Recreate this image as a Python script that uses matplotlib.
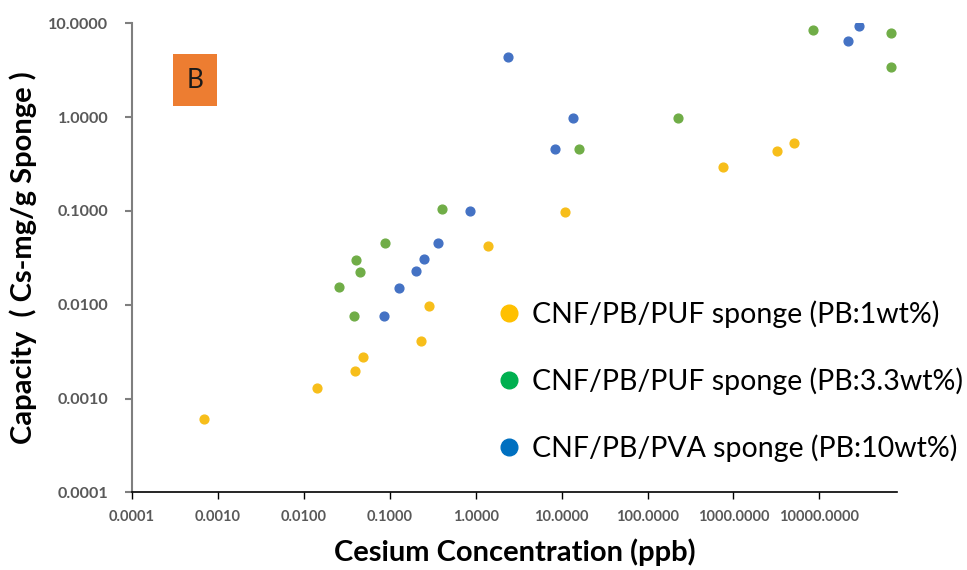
import matplotlib.pyplot as plt
from matplotlib.lines import Line2D
from matplotlib.patches import Rectangle
from matplotlib.ticker import FixedLocator, FixedFormatter

# data (ppb, mg Cs / g sponge)
x_pb1 = [0.00068, 0.0143, 0.039, 0.049, 0.233, 0.286, 1.39, 10.9, 759, 3230, 5090]
y_pb1 = [0.00061, 0.0013, 0.00195, 0.00275, 0.0041, 0.0096, 0.042, 0.0966, 0.292, 0.431, 0.533]

x_pb33 = [0.026, 0.038, 0.040, 0.045, 0.0875, 0.403, 15.8, 225, 8400, 68500, 68500]
y_pb33 = [0.0155, 0.0076, 0.030, 0.0223, 0.0455, 0.104, 0.457, 0.986, 8.42, 7.82, 3.42]

x_pb10 = [0.085, 0.127, 0.201, 0.253, 0.362, 0.853, 2.36, 8.4, 13.7, 21800, 29000]
y_pb10 = [0.0076, 0.0151, 0.0229, 0.0307, 0.0455, 0.101, 4.34, 0.457, 0.986, 6.43, 9.36]

labels = ["CNF/PB/PUF sponge (PB:1wt%)",
          "CNF/PB/PUF sponge (PB:3.3wt%)",
          "CNF/PB/PVA sponge (PB:10wt%)"]
tick_vals = [0.0001, 0.001, 0.01, 0.1, 1, 10, 100, 1000, 10000]
x_tick_labels = ["0.0001", "0.0010", "0.0100", "0.1000", "1.0000",
                 "10.0000", "100.0000", "1000.0000", "10000.0000"]
y_tick_vals = [0.0001, 0.001, 0.01, 0.1, 1, 10]
y_tick_labels = ["0.0001", "0.0010", "0.0100", "0.1000", "1.0000", "10.0000"]

plt.rcParams['font.family'] = ['Lato', 'DejaVu Sans']

fig = plt.figure(figsize=(9.67, 5.70), dpi=100)
ax = fig.add_axes([0.1365, 0.1363, 0.7908, 0.8228])

ax.scatter(x_pb1, y_pb1, s=40, color='#F7BE1A', zorder=3)
ax.scatter(x_pb33, y_pb33, s=40, color='#70AD47', zorder=3)
ax.scatter(x_pb10, y_pb10, s=40, color='#4472C4', zorder=3)

ax.set_xscale('log')
ax.set_yscale('log')
ax.set_xlim(1e-4, 10 ** 4.9)
ax.set_ylim(1e-4, 10)

ax.xaxis.set_major_locator(FixedLocator(tick_vals))
ax.xaxis.set_major_formatter(FixedFormatter(x_tick_labels))
ax.yaxis.set_major_locator(FixedLocator(y_tick_vals))
ax.yaxis.set_major_formatter(FixedFormatter(y_tick_labels))
ax.xaxis.set_minor_locator(FixedLocator([]))
ax.yaxis.set_minor_locator(FixedLocator([]))

ax.tick_params(axis='x', direction='out', length=5, width=1, labelsize=10.5,
               labelcolor='#595959', pad=8)
ax.tick_params(axis='y', direction='out', length=5, width=1.5, labelsize=11.6,
               labelcolor='#595959', color='#7F7F7F', pad=12)
for lab in ax.get_xticklabels() + ax.get_yticklabels():
    lab.set_fontweight('bold')

for s in ['top', 'right']:
    ax.spines[s].set_visible(False)
ax.spines['left'].set_color('#7F7F7F')
ax.spines['left'].set_linewidth(1.5)
ax.spines['bottom'].set_color('black')
ax.spines['bottom'].set_linewidth(1.2)

ax.set_xlabel("Cesium Concentration (ppb)", fontsize=21, fontweight='bold', labelpad=10)
ax.set_ylabel("Capacity  ( Cs-mg/g Sponge )", fontsize=21, fontweight='bold', labelpad=8)

# "B" panel tag
fig.patches.append(Rectangle((173 / 967, 1 - 106 / 570), 44 / 967, 52 / 570,
                             transform=fig.transFigure, facecolor='#ED7D31',
                             edgecolor='none'))
fig.text(195 / 967, 1 - 81 / 570, "B", fontsize=19, ha='center', va='center',
         color='#1a1a1a')

handles = [Line2D([], [], linestyle='none', marker='o', markersize=12, color=c)
           for c in ['#FFC000', '#00B050', '#0070C0']]
fig.legend(handles, labels, loc='upper left', bbox_to_anchor=(485 / 967, 1 - 289 / 570),
           frameon=False, fontsize=20.5, labelspacing=1.38, handletextpad=0.35,
           handlelength=0.9, borderaxespad=0)

fig.savefig('out.png', dpi=100)
